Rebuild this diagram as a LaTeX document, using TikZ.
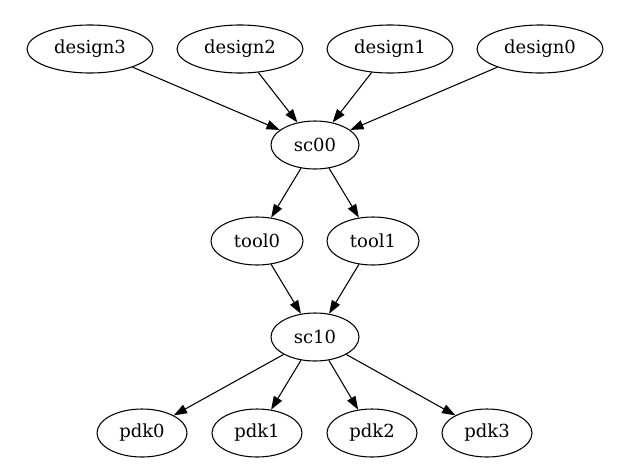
\documentclass[tikz,border=0pt]{standalone}
\usepackage{fontspec}
\setmainfont{DejaVu Serif}
\usetikzlibrary{shapes.geometric,arrows.meta}
\begin{document}
\begin{tikzpicture}[x=0.75pt, y=-0.75pt,
    vert/.style={draw, ellipse, line width=0.8pt, inner sep=0pt, minimum height=36pt, font=\fontsize{13.5}{16}\selectfont},
    every path/.style={line width=0.8pt},
    >={Triangle[length=10pt, width=7pt]}]
    \useasboundingbox (0,0) rectangle (631,464);
    \node[vert, minimum width=94.5pt] (d3) at (90, 49) {design3};
    \node[vert, minimum width=94.5pt] (d2) at (240, 49) {design2};
    \node[vert, minimum width=94.5pt] (d1) at (390, 49) {design1};
    \node[vert, minimum width=94.5pt] (d0) at (540, 49) {design0};
    \node[vert, minimum width=66pt] (sc00) at (315, 145) {sc00};
    \node[vert, minimum width=69pt] (t0) at (257, 241) {tool0};
    \node[vert, minimum width=69pt] (t1) at (373, 241) {tool1};
    \node[vert, minimum width=66pt] (sc10) at (315, 337) {sc10};
    \node[vert, minimum width=67.5pt] (p0) at (142, 433) {pdk0};
    \node[vert, minimum width=67.5pt] (p1) at (257, 433) {pdk1};
    \node[vert, minimum width=67.5pt] (p2) at (372, 433) {pdk2};
    \node[vert, minimum width=67.5pt] (p3) at (487, 433) {pdk3};
    \draw[->] (d3) -- (sc00);
    \draw[->] (d2) -- (sc00);
    \draw[->] (d1) -- (sc00);
    \draw[->] (d0) -- (sc00);
    \draw[->] (sc00) -- (t0);
    \draw[->] (sc00) -- (t1);
    \draw[->] (t0) -- (sc10);
    \draw[->] (t1) -- (sc10);
    \draw[->] (sc10) -- (p0);
    \draw[->] (sc10) -- (p1);
    \draw[->] (sc10) -- (p2);
    \draw[->] (sc10) -- (p3);
\end{tikzpicture}
\end{document}
